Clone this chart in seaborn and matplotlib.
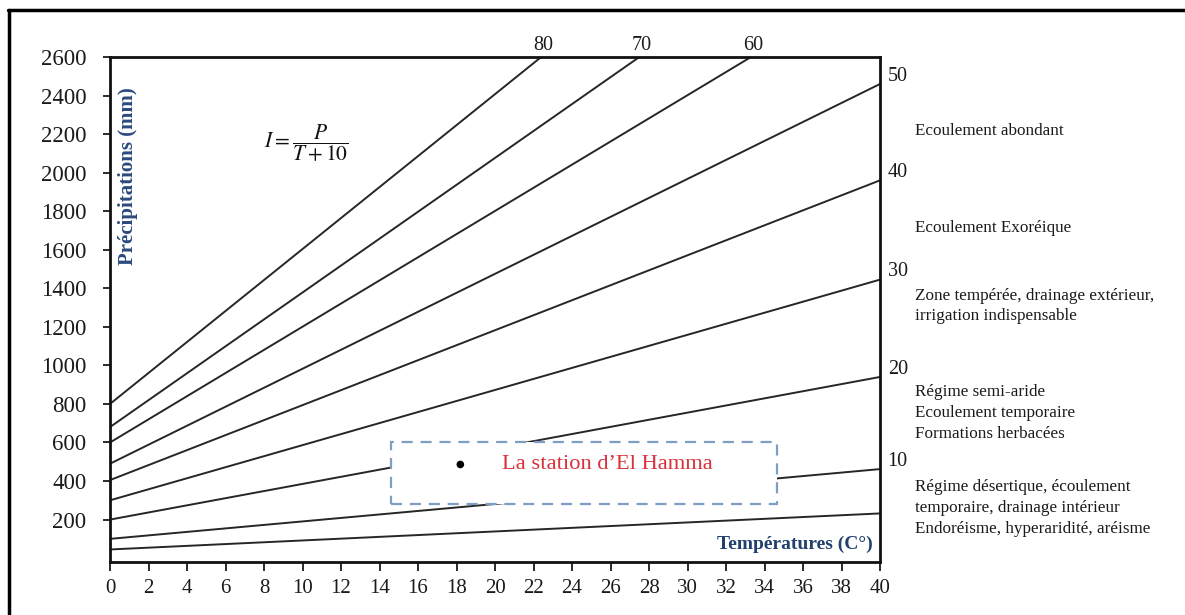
import matplotlib
matplotlib.use('Agg')
import matplotlib.pyplot as plt
import matplotlib.patches as mpatches
import matplotlib.lines as mlines
import pandas as pd
import seaborn as sns

# aridity index lines (De Martonne)
indices = [80, 70, 60, 50, 40, 30, 20, 10, 5]
p_start = [800, 680, 600, 490, 405, 300, 200, 100, 45]      # P at T = 0
t_end = [22.4, 27.5, 33.3, 40, 40, 40, 40, 40, 40]         # T where line stops
p_end = [2600, 2600, 2600, 2460, 1960, 1445, 940, 462, 232]

# labels on the right side (index value, P at T=40)
right_idx = ['50', '40', '30', '20', '10']
# labels on top
top_idx = ['80', '70', '60']

zones = ['Ecoulement abondant',
         'Ecoulement Exoréique',
         'Zone tempérée, drainage extérieur,\nirrigation indispensable',
         'Régime semi-aride\nEcoulement temporaire\nFormations herbacées',
         'Régime désertique, écoulement\ntemporaire, drainage intérieur\nEndoréisme, hyperaridité, aréisme']

station_T = [18.2]
station_P = [486]
station_name = 'La station d\u2019El Hamma'

xticks = list(range(0, 41, 2))
yticks = list(range(200, 2601, 200))

sns.set_style('ticks')
plt.rcParams['font.family'] = ['Liberation Serif', 'DejaVu Serif']
plt.rcParams['mathtext.fontset'] = 'stix'

W, H = 1185, 615
fig = plt.figure(figsize=(W / 100, H / 100), dpi=100)
ax = fig.add_axes([110 / W, 1 - 562 / H, 770 / W, 505 / H])

rows = []
for i, p0, t1, p1 in zip(indices, p_start, t_end, p_end):
  rows.append({'I': i, 'T': 0.0, 'P': p0})
  rows.append({'I': i, 'T': t1, 'P': p1})
df = pd.DataFrame(rows)

sns.lineplot(data=df, x='T', y='P', units='I', estimator=None,
             color='#262626', linewidth=1.4, ax=ax, zorder=2)

# station box (white fill hides lines behind)
box = mpatches.Rectangle((14.6, 283), 20.05, 317, facecolor='white',
                         edgecolor='#7f9ec4', linewidth=1.6,
                         linestyle=(0, (5, 3.5)), zorder=3)
ax.add_patch(box)

sns.scatterplot(x=station_T, y=station_P, color='black', s=30, ax=ax,
                zorder=4, edgecolor='none')
ax.text(20.35, station_P[0], station_name, color='#d8323c', fontsize=16.2,
        va='center', ha='left', zorder=5)

ax.set_xlim(0, 40)
ax.set_ylim(-20, 2600)
ax.set_xticks(xticks)
ax.set_yticks(yticks)
ax.tick_params(axis='x', length=6.5, width=1.3, pad=6, labelsize=15,
               colors='#1a1a1a')
ax.tick_params(axis='y', length=5, width=1.3, pad=12, labelsize=16.5,
               colors='#1a1a1a')
ax.set_xlabel('')
ax.set_ylabel('')
for s in ax.spines.values():
  s.set_linewidth(2)
  s.set_color('#111111')

# axis titles inside the frame
ax.text(0.95, 1980, 'Précipitations (mm)', rotation=90, fontsize=15,
        fontweight='bold', color='#2b4a7c', ha='center', va='center')
ax.text(39.6, 70, 'Températures (C°)', fontsize=14, fontweight='bold',
        color='#22406e', ha='right', va='center')

# formula
ax.text(10.2, 2150, r'$I=\dfrac{P}{T+10}$', fontsize=15.5, ha='center',
        va='center', color='#111111')

# index labels on the right
for lab, p in zip(right_idx, p_end[3:8]):
  ax.text(40.4, p + 40, lab, fontsize=14.5, ha='left', va='center',
          clip_on=False, color='#1a1a1a')

# index labels on top
for lab, t in zip(top_idx, t_end[:3]):
  ax.text(t + 0.1, 2612, lab, fontsize=14.5, ha='center', va='bottom',
          clip_on=False, color='#1a1a1a')

# zone descriptions
zone_y = [131, 228, 306, 413, 508]
for txt, y in zip(zones, zone_y):
  fig.text(915 / W, 1 - y / H, txt, fontsize=12.3, ha='left', va='center',
           linespacing=1.4, color='#1a1a1a')

# outer frame (top and left edges)
fig.add_artist(mlines.Line2D([8.5 / W, 8.5 / W], [0, 1 - 10 / H],
                             transform=fig.transFigure, color='black', lw=2.5))
fig.add_artist(mlines.Line2D([8 / W, 1], [1 - 10 / H, 1 - 10 / H],
                             transform=fig.transFigure, color='black', lw=2.5))

fig.savefig('out.png', dpi=100)
